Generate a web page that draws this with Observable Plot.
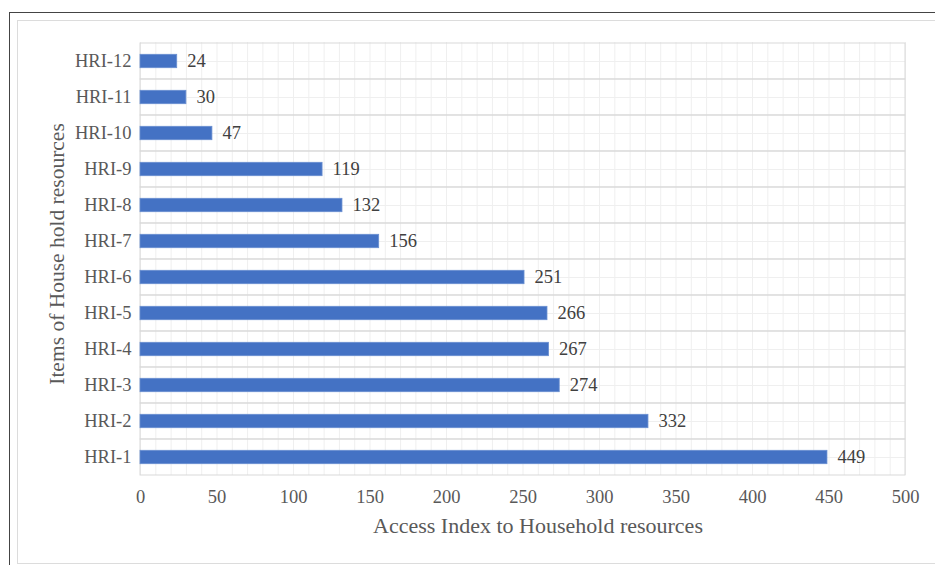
<!DOCTYPE html>
<html>
<head>
<meta charset="utf-8">
<script src="https://cdn.jsdelivr.net/npm/d3@7"></script>
<script src="https://cdn.jsdelivr.net/npm/@observablehq/plot@0.6"></script>
<style>
  html, body { margin: 0; padding: 0; background: #fff; }
  #wrap { position: relative; width: 935px; height: 565px; overflow: hidden; }
  #outer { position: absolute; left: 9px; top: 12px; width: 940px; height: 570px;
           border-top: 1.5px solid #444; border-left: 1.5px solid #444; box-sizing: border-box; }
  #inner { position: absolute; left: 17px; top: 20px; width: 940px; height: 544px;
           border: 1px solid #dcdcdc; box-sizing: border-box; }
  #chart { position: absolute; left: 0; top: 0; }
</style>
</head>
<body>
<div id="wrap">
  <div id="outer"></div>
  <div id="inner"></div>
  <div id="chart"></div>
</div>
<script>
const categories = ["HRI-1","HRI-2","HRI-3","HRI-4","HRI-5","HRI-6","HRI-7","HRI-8","HRI-9","HRI-10","HRI-11","HRI-12"];
const values = [449, 332, 274, 267, 266, 251, 156, 132, 119, 47, 30, 24];
const xTicks = [0, 50, 100, 150, 200, 250, 300, 350, 400, 450, 500];
const minorTicks = d3.range(0, 501, 10);
const xTitle = "Access Index to Household resources";
const yTitle = "Items of House hold resources";

const data = categories.map((c, i) => ({cat: c, value: values[i]}));
const font = "'Liberation Serif', 'DejaVu Serif', serif";

const chart = Plot.plot({
  width: 935,
  height: 565,
  marginLeft: 140,
  marginRight: 30,
  marginTop: 42,
  marginBottom: 90,
  style: {fontFamily: font, background: "transparent", color: "#595959"},
  x: {domain: [0, 500]},
  y: {domain: categories.slice().reverse(), padding: 0},
  marks: [
    Plot.ruleX(minorTicks, {stroke: "#efefef", strokeWidth: 1}),
    Plot.gridY({stroke: "#efefef", strokeOpacity: 1}),
    Plot.cell(categories, {y: d => d, fill: "none", stroke: "#d9d9d9", strokeWidth: 1}),
    Plot.barX(data, {y: "cat", x: "value", fill: "#4472C4", stroke: "#6a8fd0", strokeWidth: 0.8, insetTop: 11.3, insetBottom: 11.3}),
    Plot.text(data, {y: "cat", x: "value", text: d => String(d.value), textAnchor: "start", dx: 10, fontSize: 18.5, fill: "#404040"}),
    Plot.axisX({ticks: xTicks, tickSize: 0, tickPadding: 14, fontSize: 18.5, label: null, tickFormat: d => String(d), color: "#595959"}),
    Plot.axisY({tickSize: 0, tickPadding: 9, fontSize: 18.5, label: null, color: "#595959"}),
    Plot.text([xTitle], {text: d => d, frameAnchor: "bottom", dx: 15, dy: 57, fontSize: 22, fill: "#595959"}),
    Plot.text([yTitle], {text: d => d, frameAnchor: "left", textAnchor: "middle", rotate: -90, dx: -83, dy: -5, fontSize: 21.5, fill: "#595959"})
  ]
});
document.getElementById("chart").appendChild(chart);
</script>
</body>
</html>
